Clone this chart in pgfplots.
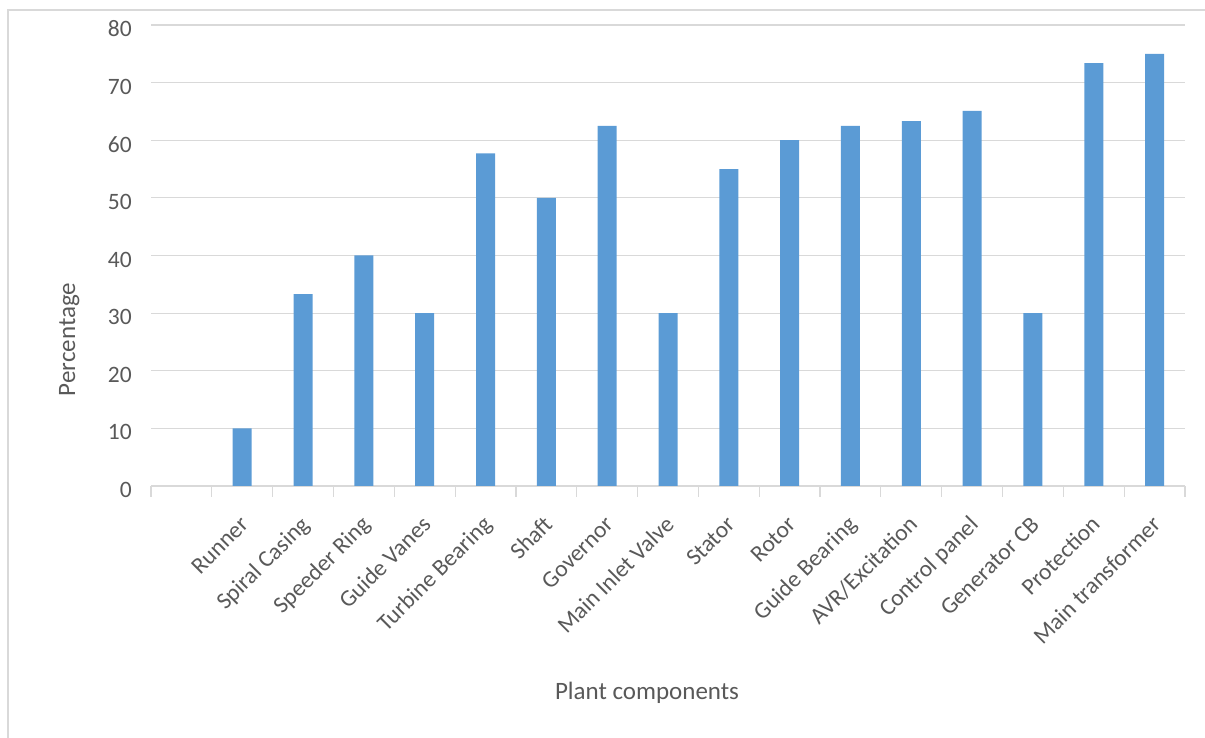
\documentclass[border=0pt]{standalone}
\usepackage{fontspec}
\setmainfont{Carlito}
\usepackage{pgfplots}
\pgfplotsset{compat=1.18}
\definecolor{barblue}{HTML}{5B9BD5}
\definecolor{txtgray}{HTML}{595959}
\definecolor{gridgray}{HTML}{D9D9D9}
\begin{document}
\begin{tikzpicture}[x=1pt,y=1pt]
\useasboundingbox (0,0) rectangle (1205,738);
\draw[gridgray, line width=1.2pt] (8,0) -- (8,728) -- (1205,728);
\begin{axis}[
  at={(151pt,252pt)}, anchor=south west,
  scale only axis, width=1034pt, height=461pt,
  xmin=-0.5, xmax=16.5, ymin=0, ymax=80,
  ytick={0,10,...,80},
  xtick={1,...,16},
  xticklabels={Runner,Spiral Casing,Speeder Ring,Guide Vanes,Turbine Bearing,Shaft,Governor,Main Inlet Valve,Stator,Rotor,Guide Bearing,AVR/Excitation,Control panel,Generator CB,Protection,Main transformer},
  minor xtick={-0.5,0.5,...,16.5},
  axis x line=bottom, axis y line=left,
  x axis line style={-, draw=gridgray, line width=1.2pt},
  y axis line style={draw=none},
  major tick length=0pt,
  minor tick length=11pt,
  tick align=outside,
  minor x tick style={draw=gridgray, line width=1.2pt},
  ytick style={draw=none},
  ymajorgrids, grid style={gridgray, line width=1.2pt},
  /pgf/number format/assume math mode=true,
  tick label style={font=\fontsize{23.5}{28}\selectfont, text=txtgray},
  yticklabel style={anchor=east, inner sep=0pt, xshift=-19pt, yshift=-4pt},
  xticklabel style={inner sep=0pt, xshift=7.5pt, yshift=-40pt, rotate=45, anchor=base east},
  label style={font=\fontsize{25}{30}\selectfont, text=txtgray},
  xlabel={Plant components},
  xlabel style={at={(axis description cs:0.4797,-0.464)}, anchor=base},
  ylabel={Percentage},
  ylabel style={at={(axis description cs:-0.0735,0.3178)}, anchor=base, rotate=0},
  clip=false,
]
\addplot[ybar, bar width=19pt, fill=barblue, draw=none] coordinates {
(1,10) (2,33.3) (3,40) (4,30) (5,57.7) (6,50) (7,62.5) (8,30)
(9,55) (10,60) (11,62.5) (12,63.3) (13,65.1) (14,30) (15,73.4) (16,75)
};
\end{axis}
\end{tikzpicture}
\end{document}
